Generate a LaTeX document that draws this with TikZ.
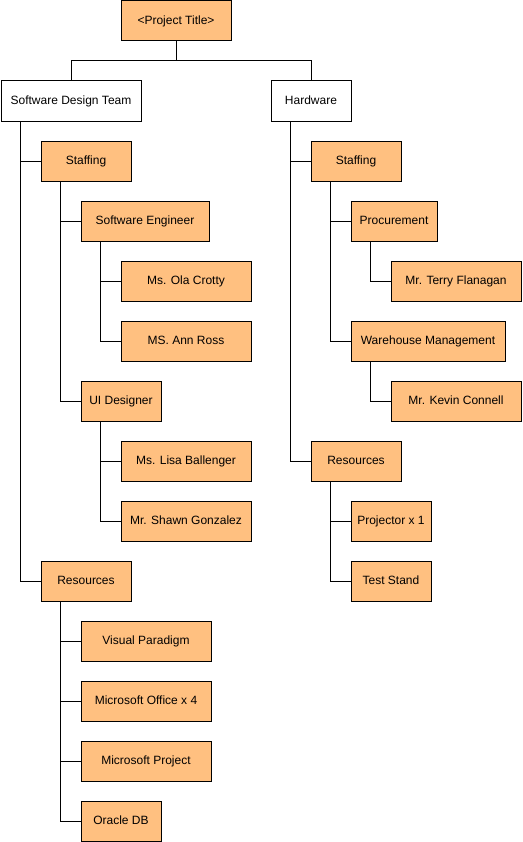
\documentclass[tikz,border=0pt]{standalone}
\usepackage{fontspec}
\setmainfont{Liberation Sans}
\definecolor{wbsfill}{RGB}{255,192,128}
\tikzset{every picture/.style={line width=0.75pt}}
\tikzset{
  wbs/.style={draw, fill=wbsfill, minimum height=30pt, inner sep=0.75pt, text height=6.6pt, text depth=1.9pt, font=\fontsize{9}{11}\selectfont},
  wbsplain/.style={wbs, fill=white},
  wd/.style={minimum width=#1*0.75pt},
}

\begin{document}
\begin{tikzpicture}[x=0.75pt,y=0.75pt,yscale=-1,xscale=1]
\useasboundingbox (0,0) rectangle (522,842);

% Top level
\node [wbs, wd=110] (title) at (176,21) {<Project Title>};
\node [wbsplain, wd=140] (sdt) at (71,101) {Software Design Team};
\node [wbsplain, wd=80] (hw) at (311,101) {Hardware};

% Software Design Team
\node [wbs, wd=90] (sstaff) at (86,161) {Staffing};
\node [wbs, wd=128] (seng) at (145,221) {Software Engineer};
\node [wbs, wd=130] (crotty) at (186,281) {Ms. Ola Crotty};
\node [wbs, wd=130] (ross) at (186,341) {MS. Ann Ross};
\node [wbs, wd=80] (uid) at (121,401) {UI Designer};
\node [wbs, wd=130] (ballenger) at (186,461) {Ms. Lisa Ballenger};
\node [wbs, wd=130] (gonzalez) at (186,521) {Mr. Shawn Gonzalez};
\node [wbs, wd=90] (sres) at (86,581) {Resources};
\node [wbs, wd=130] (vp) at (146,641) {Visual Paradigm};
\node [wbs, wd=130] (office) at (146,701) {Microsoft Office x 4};
\node [wbs, wd=130] (msproj) at (146,761) {Microsoft Project};
\node [wbs, wd=80] (oracle) at (121,821) {Oracle DB};

% Hardware
\node [wbs, wd=90] (hstaff) at (356,161) {Staffing};
\node [wbs, wd=86] (procure) at (394,221) {Procurement};
\node [wbs, wd=130] (flanagan) at (456,281) {Mr. Terry Flanagan};
\node [wbs, wd=154] (whm) at (428,341) {Warehouse Management};
\node [wbs, wd=130] (connell) at (456,401) {Mr. Kevin Connell};
\node [wbs, wd=90] (hres) at (356,461) {Resources};
\node [wbs, wd=80] (projector) at (391,521) {Projector x 1};
\node [wbs, wd=80] (stand) at (391,581) {Test Stand};

% Connectors
\coordinate (split) at (176,61);
\draw (title.south) -- (split) -| (sdt.north);
\draw (split) -| (hw.north);

\draw ([xshift=15pt]sdt.south west) |- (sres.west);
\draw ([xshift=15pt]sdt.south west) |- (sstaff.west);
\draw ([xshift=15pt]sstaff.south west) |- (uid.west);
\draw ([xshift=15pt]sstaff.south west) |- (seng.west);
\draw ([xshift=15pt]seng.south west) |- (ross.west);
\draw ([xshift=15pt]seng.south west) |- (crotty.west);
\draw ([xshift=15pt]uid.south west) |- (gonzalez.west);
\draw ([xshift=15pt]uid.south west) |- (ballenger.west);
\foreach \n in {vp,office,msproj,oracle}
  \draw ([xshift=15pt]sres.south west) |- (\n.west);

\draw ([xshift=15pt]hw.south west) |- (hres.west);
\draw ([xshift=15pt]hw.south west) |- (hstaff.west);
\draw ([xshift=15pt]hstaff.south west) |- (whm.west);
\draw ([xshift=15pt]hstaff.south west) |- (procure.west);
\draw ([xshift=15pt]procure.south west) |- (flanagan.west);
\draw ([xshift=15pt]whm.south west) |- (connell.west);
\draw ([xshift=15pt]hres.south west) |- (stand.west);
\draw ([xshift=15pt]hres.south west) |- (projector.west);

\end{tikzpicture}
\end{document}
